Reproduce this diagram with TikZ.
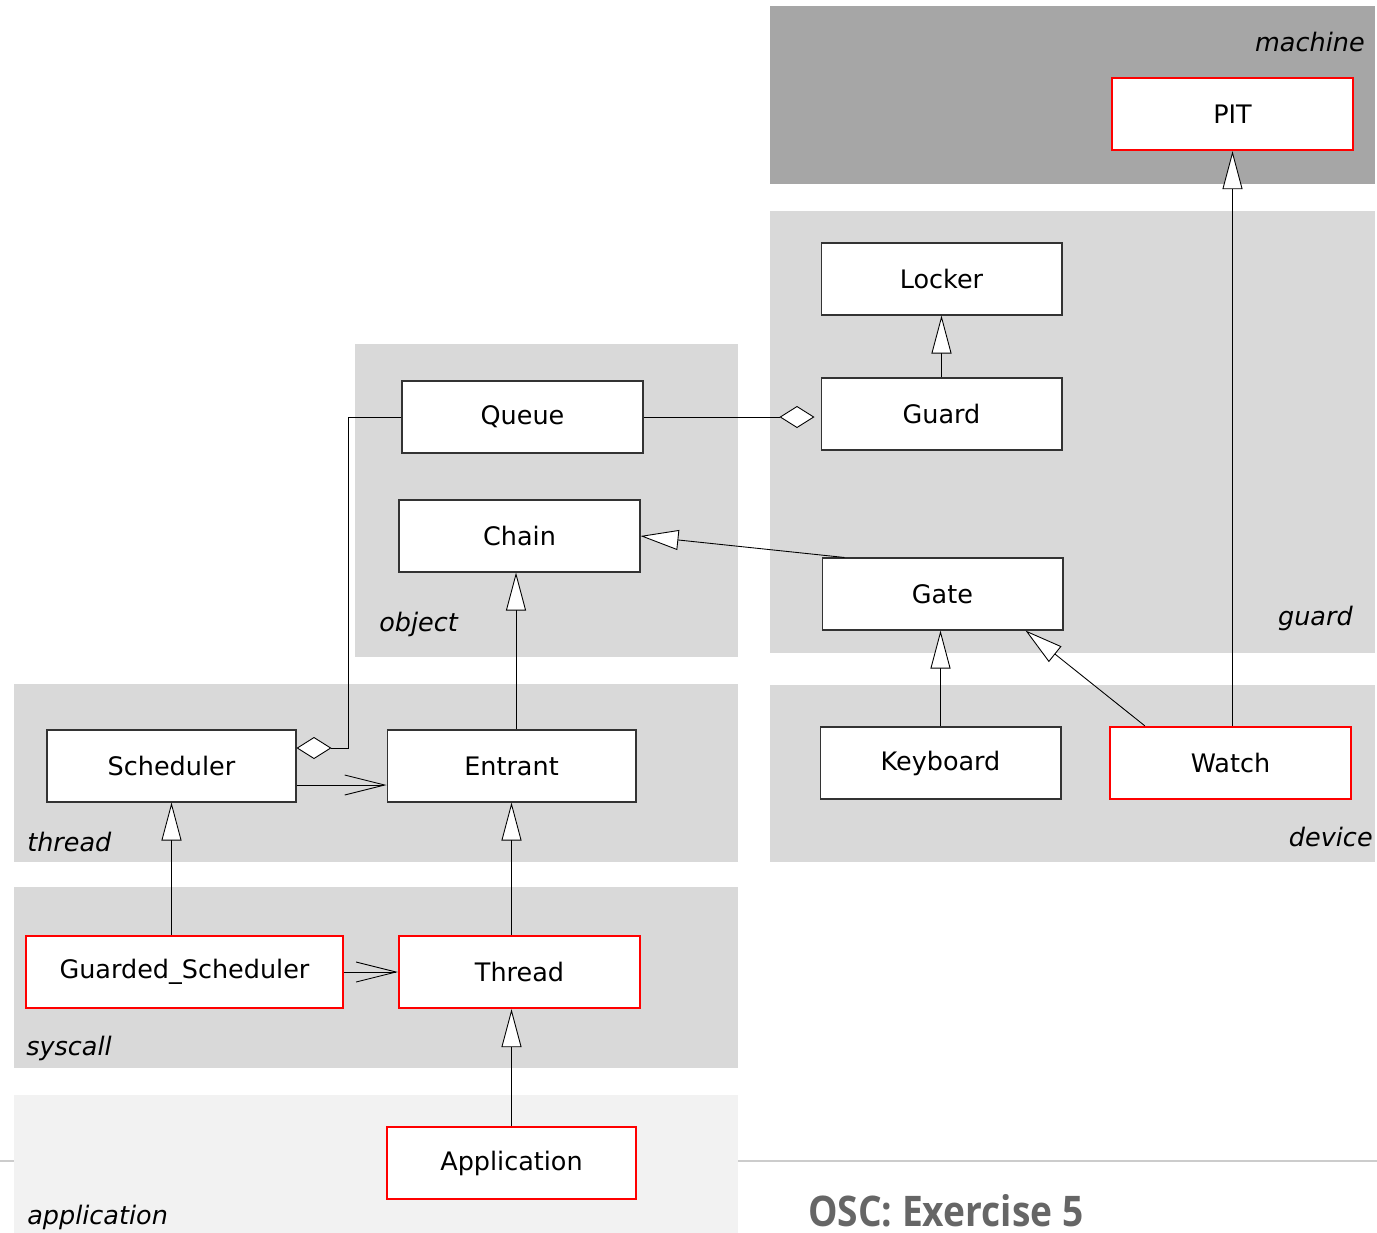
\documentclass[tikz,border=0pt]{standalone}
\usepackage{fontspec}
\setmainfont{DejaVu Sans}
\newfontfamily\titlefont[FakeStretch=0.88]{Open Sans}
\usetikzlibrary{arrows.meta}
\definecolor{machinegray}{HTML}{A6A6A6}
\definecolor{layergray}{HTML}{D9D9D9}
\definecolor{appgray}{HTML}{F2F2F2}
\definecolor{titlegray}{HTML}{666666}
\begin{document}
\begin{tikzpicture}[x=0.02cm,y=-0.02cm,
    class/.style={draw=black!80, line width=0.6pt, fill=white, minimum width=4.82cm,
      minimum height=1.44cm, font=\fontsize{14.5}{17}\selectfont},
    wide/.style={minimum width=4.98cm},
    todo/.style={draw=red, line width=1.3pt},
    layer/.style={font=\fontsize{14.5}{17}\selectfont\itshape, inner sep=0pt},
    inherit/.style={-{Triangle[open,fill=white,length=0.76cm,width=0.4cm]}, line width=0.5pt},
    aggregate/.style={-{Diamond[open,fill=white,length=0.7cm,width=0.44cm]}, line width=0.5pt},
    uses/.style={-{Straight Barb[length=0.8cm,width=0.4cm]}, line width=0.5pt}]
  \useasboundingbox (0,0) rectangle (1377,1232);
  \clip (0,0) rectangle (1377,1232);

  % slide rule
  \draw [black!20, line width=0.6pt] (0,1161) -- (1377,1161);

  % layers
  \fill [machinegray] (770,6) rectangle (1375,184);
  \fill [layergray] (770,211) rectangle (1375,653);
  \fill [layergray] (355,344) rectangle (738,657);
  \fill [layergray] (14,684) rectangle (738,862);
  \fill [layergray] (770,685) rectangle (1375,862);
  \fill [layergray] (14,887) rectangle (738,1068);
  \fill [appgray] (14,1095) rectangle (738,1240);

  \node [layer, anchor=east] (lmachine) at (1365,42) {machine};
  \node [layer, anchor=east] (lguard) at (1353,618) {guard};
  \node [layer, anchor=west] (lobject) at (379,624) {object};
  \node [layer, anchor=west] (lthread) at (27,842) {thread};
  \node [layer, anchor=east] (ldevice) at (1373,837) {device};
  \node [layer, anchor=west] (lsyscall) at (26,1048) {syscall};
  \node [layer, anchor=west] (lapp) at (27,1217) {application};

  % classes
  \node [class, todo] (pit) at (1232.5,114) {PIT};
  \node [class] (locker) at (941.5,279) {Locker};
  \node [class] (guard) at (941.5,414) {Guard};
  \node [class] (queue) at (522.5,417) {Queue};
  \node [class] (chain) at (519.5,536) {Chain};
  \node [class] (gate) at (942.5,594) {Gate};
  \node [class, wide] (scheduler) at (171.5,766) {Scheduler};
  \node [class, wide] (entrant) at (511.5,766) {Entrant};
  \node [class] (keyboard) at (940.5,763) {Keyboard};
  \node [class, todo] (watch) at (1230.5,763) {Watch};
  \node [class, todo, minimum width=6.34cm] (gsched) at (184.5,972) {Guarded\_Scheduler};
  \node [class, todo] (thread) at (519.5,972) {Thread};
  \node [class, todo, wide] (application) at (511.5,1163) {Application};

  % relations
  \draw [inherit] (pit.south |- watch.north) -- (pit.south);
  \draw [inherit] (guard.north) -- (locker.south);
  \draw [aggregate, shorten >=0.12cm] (queue.east) -- (queue.east -| guard.west);
  \draw [aggregate] (queue.west) -- (348,417) |- ([yshift=0.36cm]scheduler.east);
  \draw [inherit] ([xshift=0.46cm]gate.north west) -- (chain.east);
  \draw [inherit] (entrant.north -| 516,0) -- (chain.south -| 516,0);
  \draw [inherit] (keyboard.north) -- (keyboard.north |- gate.south);
  \draw [inherit] ([xshift=0.72cm]watch.north west) -- ([xshift=-0.76cm]gate.south east);
  \draw [uses] ([yshift=-0.38cm]scheduler.east) -- ([yshift=-0.38cm]scheduler.east -| entrant.west);
  \draw [inherit] (scheduler.south |- gsched.north) -- (scheduler.south);
  \draw [inherit] (entrant.south |- thread.north) -- (entrant.south);
  \draw [uses] (gsched.east) -- (thread.west);
  \draw [inherit] (application.north) -- (application.north |- thread.south);

  \node [anchor=base west, inner sep=0pt, text=titlegray, font=\titlefont\bfseries\fontsize{24}{28}\selectfont] (title) at (808,1226) {OSC: Exercise 5};
\end{tikzpicture}
\end{document}
